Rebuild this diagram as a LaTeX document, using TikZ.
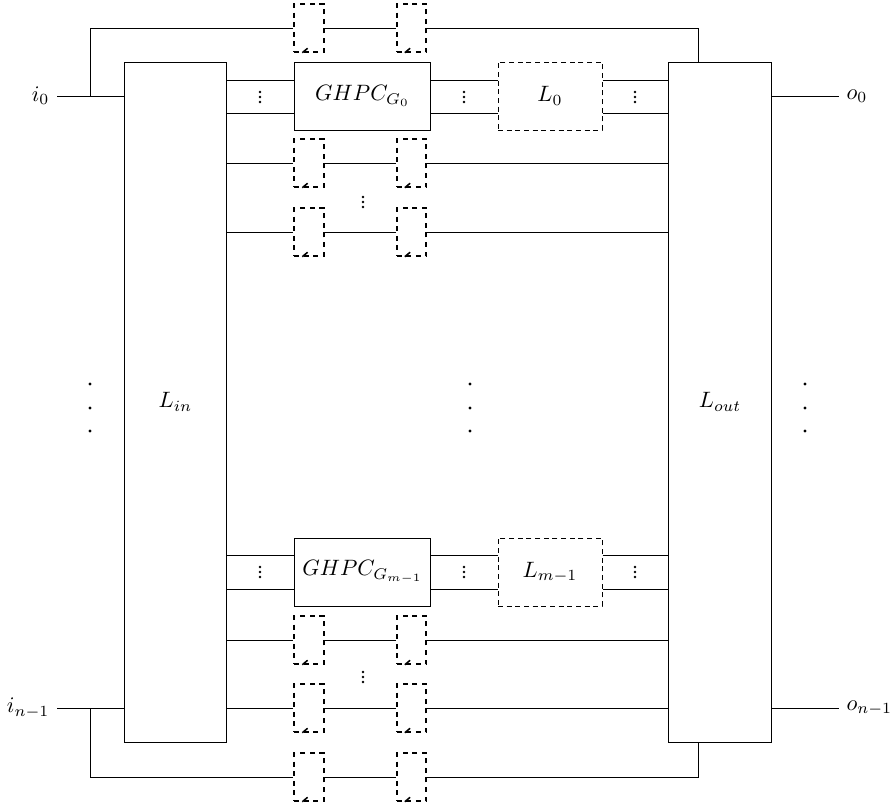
\documentclass[tikz,border=0pt]{standalone}
\begin{document}
\begin{tikzpicture}[x=0.45pt,y=-0.45pt,
  wire/.style={line width=0.45pt},
  bigbox/.style={draw,line width=0.45pt,minimum width=46pt,minimum height=306pt,inner sep=0pt},
  gbox/.style={draw,line width=0.45pt,minimum width=61.6pt,minimum height=30.6pt,inner sep=0pt},
  lbox/.style={draw,line width=0.45pt,dash pattern=on 2.3pt off 1.6pt,minimum width=46.8pt,minimum height=30.6pt,inner sep=0pt},
  sbox/.style={draw,line width=0.85pt,dash pattern=on 2.2pt off 2.1pt,minimum width=13.2pt,minimum height=21.4pt,inner sep=0pt},
  dotm/.style={fill,circle,inner sep=0pt,minimum size=1.3pt},
  lab/.style={inner sep=3.2pt}]
\useasboundingbox (0,0) rectangle (890,803);

% big boxes
\node[bigbox] (Lin) at (175.5,402) {$L_{in}$};
\node[bigbox] (Lout) at (720,402) {$L_{out}$};

% inputs / outputs
\coordinate (in0) at (57,96);
\coordinate (inn) at (57,708);
\coordinate (out0) at (839,96);
\coordinate (outn) at (839,708);
\node[lab,anchor=east] (i0) at (in0) {$i_0$};
\node[lab,anchor=east] (in1) at (inn) {$i_{n-1}$};
\node[lab,anchor=west] (o0) at (out0) {$o_0$};
\node[lab,anchor=west] (on1) at (outn) {$o_{n-1}$};
\draw[wire] (in0) -- (Lin.west |- in0);
\draw[wire] (inn) -- (Lin.west |- inn);
\draw[wire] (Lout.east |- out0) -- (out0);
\draw[wire] (Lout.east |- outn) -- (outn);

% feedback paths with small boxes
\coordinate (jt) at (90,96);
\coordinate (jb) at (90,708);
\coordinate (ot) at (698,62);
\coordinate (ob) at (698,742);
\foreach \r/\y in {ft/28,r1/163,r2/232,r3/640,r4/708,fb/777}{
  \node[sbox] (\r a) at (309,\y) {};
  \node[sbox] (\r b) at (411.5,\y) {};
  \foreach \s in {a,b}{
    \draw[line width=0.7pt] ([xshift=4pt]\r\s.south west) -- ([xshift=6.4pt,yshift=2pt]\r\s.south west);
  }
  \draw[wire] (\r a.east) -- (\r b.west);
}
\draw[wire] (jt) |- (fta.west);
\draw[wire] (ftb.east) -| (ot);
\draw[wire] (jb) |- (fba.west);
\draw[wire] (fbb.east) -| (ob);
\foreach \r in {r1,r2,r3,r4}{
  \draw[wire] (Lin.east |- \r a) -- (\r a.west);
  \draw[wire] (\r b.east) -- (Lout.west |- \r b);
}

% GHPC blocks
\node[gbox] (G0) at (362.5,96) {$GHPC_{G_0}$};
\node[lbox] (L0) at (550,96) {$L_0$};
\node[gbox] (Gm) at (362.5,572) {$GHPC_{G_{m-1}}$};
\node[lbox] (Lm) at (550,572) {$L_{m-1}$};
\foreach \g/\l/\ya/\yb in {G0/L0/80/113,Gm/Lm/555/589}{
  \draw[wire] (Lin.east |- 0,\ya) -- (\g.west |- 0,\ya);
  \draw[wire] (Lin.east |- 0,\yb) -- (\g.west |- 0,\yb);
  \draw[wire] (\g.east |- 0,\ya) -- (\l.west |- 0,\ya);
  \draw[wire] (\g.east |- 0,\yb) -- (\l.west |- 0,\yb);
  \draw[wire] (\l.east |- 0,\ya) -- (Lout.west |- 0,\ya);
  \draw[wire] (\l.east |- 0,\yb) -- (Lout.west |- 0,\yb);
}

% small vertical dots
\foreach \x/\y in {260/97,464/97,635/97,363/202,260/572,464/572,635/572,363/677}{
  \foreach \d in {-5,0,5}{
    \node[dotm] at (\x,\y+\d) {};
  }
}
% large vertical dots
\foreach \x in {90,470,805}{
  \foreach \y in {384,408,431}{
    \node[dotm,minimum size=1.4pt] at (\x,\y) {};
  }
}
\end{tikzpicture}
\end{document}
